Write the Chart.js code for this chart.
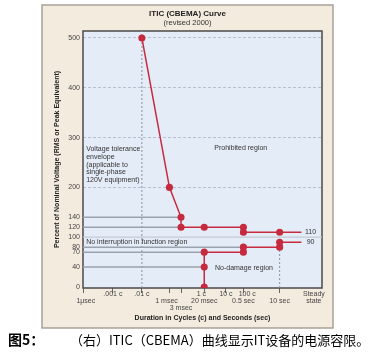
<!DOCTYPE html>
<html><head><meta charset="utf-8">
<script src="https://cdn.jsdelivr.net/npm/chart.js@4/dist/chart.umd.min.js"></script>
<style>
html,body{margin:0;padding:0;background:#fff;}
#wrap{position:relative;width:368px;height:357px;overflow:hidden;background:#fff;}
#c{position:absolute;left:0;top:0;width:368px;height:357px;}
#cap{position:absolute;left:8px;top:332px;font-family:"Noto Sans CJK SC";font-size:13px;line-height:14px;color:#000;white-space:nowrap;}
#cap b{display:inline-block;width:62px;font-weight:bold;font-size:14px;}
</style></head><body>
<div id="wrap"><canvas id="c" width="368" height="357"></canvas>
<div id="cap"><b>图5：</b>（右）ITIC（CBEMA）曲线显示IT设备的电源容限。</div></div>
<script>
// ---- data (x = schematic log-duration position, y = percent of nominal voltage) ----
const xTickPos     = [-6, -5, -4, -3.05, -2.65, -1.85, -1.1, -0.5, 0.75, 1.93];
const xTickCycles  = ["", ".001 c", ".01 c", "", "", "1 c   ", "10 c", "    100 c", "", "Steady"];
const xTickSeconds = ["  1μsec", "", "", "1 msec   ", "", "20 msec", "", "0.5 sec", "10 sec", "state"];
const xTickExtra   = ["", "", "", "", "3 msec", "", "", "", "", ""];
const yTicks = [0, 40, 70, 80, 100, 120, 140, 200, 300, 400, 500];
const yDashedGrid = [200, 300, 400, 500];

const upperDur = [-4, -3.05, -2.65, -2.65, -1.85, -0.5, -0.5, 0.75, 1.5];
const upperPct = [500, 200, 140, 120, 120, 120, 110, 110, 110];
const lowerDur = [-1.85, -1.85, -1.85, -0.5, -0.5, 0.75, 0.75, 1.5];
const lowerPct = [0, 40, 70, 70, 80, 80, 90, 90];

const refLevels = [140, 120, 80, 70, 40];
const refEnds   = [-2.65, -2.65, -0.5, -1.85, -1.85];

const xMin = -6.03, xMax = 2.21, yMin = -2, yMax = 514;

const RED = '#c62a3e';
const FONT = 'Liberation Sans';
const pts = (xs, ys) => xs.map((x, i) => ({x, y: ys[i]}));
const lastHidden = (n) => Array.from({length: n}, (_, i) => i === n - 1 ? 0 : 2.8);

const datasets = [
  {data: pts(upperDur, upperPct), borderColor: RED, backgroundColor: RED, borderWidth: 1.5, pointRadius: lastHidden(upperDur.length), showLine: true},
  {data: pts(lowerDur, lowerPct), borderColor: RED, backgroundColor: RED, borderWidth: 1.5, pointRadius: lastHidden(lowerDur.length), showLine: true},
];
refLevels.forEach((lv, i) => datasets.push({
  data: [{x: xMin, y: lv}, {x: refEnds[i], y: lv}], borderColor: '#9aa2ad', borderWidth: 1.5, pointRadius: 0, showLine: true
}));
datasets.push({data: [{x: xMin, y: 100}, {x: xMax, y: 100}], borderColor: '#c3cad4', borderWidth: 1.2, pointRadius: 0, showLine: true});
datasets.push({data: [{x: -4, y: yMin}, {x: -4, y: yMax}], borderColor: '#8a92a0', borderWidth: 1, borderDash: [2, 2], pointRadius: 0, showLine: true});
datasets.push({data: [{x: 0.75, y: yMin}, {x: 0.75, y: 80}], borderColor: '#8a92a0', borderWidth: 1, borderDash: [2, 2], pointRadius: 0, showLine: true});

const notes = [
  {lines: ['Prohibited region'], x: -0.59, y: 278, align: 'center'},
  {lines: ['Voltage tolerance', 'envelope', '(applicable to', 'single-phase', '120V equipment)'], x: -5.92, y: 276, align: 'left'},
  {lines: ['No interruption in function region'], x: -5.92, y: 90, align: 'left'},
  {lines: ['No-damage region'], x: -1.48, y: 38, align: 'left'},
  {lines: ['110'], x: 1.62, y: 110, align: 'left'},
  {lines: ['90'], x: 1.68, y: 90, align: 'left'},
];

const decor = {
  id: 'decor',
  beforeDraw(chart) {
    const {ctx, chartArea: a} = chart;
    ctx.save();
    ctx.fillStyle = '#fff'; ctx.fillRect(0, 0, chart.width, chart.height);
    const fx = a.left - 41, fy = 5, fr = a.right + 11, fb = 328;
    ctx.fillStyle = '#f4ebdf'; ctx.fillRect(fx, fy, fr - fx, fb - fy);
    ctx.strokeStyle = '#a8a198'; ctx.lineWidth = 1.5; ctx.strokeRect(fx, fy, fr - fx, fb - fy);
    ctx.fillStyle = '#e4ecf7'; ctx.fillRect(a.left, a.top, a.right - a.left, a.bottom - a.top);
    ctx.restore();
  },
  beforeDatasetsDraw(chart) {
    const {ctx, chartArea: a} = chart;
    ctx.save();
    ctx.strokeStyle = '#4a4a4a'; ctx.lineWidth = 1.5;
    ctx.strokeRect(a.left, a.top, a.right - a.left, a.bottom - a.top);
    ctx.restore();
  },
  afterDatasetsDraw(chart) {
    const {ctx} = chart;
    const sx = chart.scales.x, sy = chart.scales.y;
    ctx.save();
    ctx.fillStyle = '#333';
    ctx.font = '7px "' + FONT + '"';
    ctx.textBaseline = 'middle';
    notes.forEach(n => {
      ctx.textAlign = n.align;
      const px = sx.getPixelForValue(n.x), py = sy.getPixelForValue(n.y);
      n.lines.forEach((t, i) => ctx.fillText(t, px, py + i * 7.6));
    });
    ctx.restore();
  }
};

new Chart(document.getElementById('c'), {
  type: 'scatter',
  data: {datasets},
  plugins: [decor],
  options: {
    responsive: false,
    animation: false,
    events: [],
    layout: {padding: {left: 42, right: 35, top: 5, bottom: 29}},
    plugins: {
      legend: {display: false},
      tooltip: {enabled: false},
      title: {display: true, text: 'ITIC (CBEMA) Curve', color: '#222',
        font: {family: FONT, size: 8, weight: 'bold'}, padding: {top: 4, bottom: 0}},
      subtitle: {display: true, text: '(revised 2000)', color: '#333',
        font: {family: FONT, size: 7.5}, padding: {top: 0, bottom: 3.4}}
    },
    scales: {
      x: {
        type: 'linear', min: xMin, max: xMax,
        afterBuildTicks: s => { s.ticks = xTickPos.map(v => ({value: v})); },
        afterFit: s => { s.height = 40; s.paddingLeft = 0; s.paddingRight = 0; },
        ticks: {
          autoSkip: false, maxRotation: 0, minRotation: 0, padding: -3, color: '#444',
          font: {family: FONT, size: 7, lineHeight: 1.05},
          callback: (v, i) => {
            const l = [xTickCycles[i], xTickSeconds[i], xTickExtra[i]];
            while (l.length && l[l.length - 1] === '') l.pop();
            return l;
          }
        },
        grid: {drawOnChartArea: false, drawTicks: true, tickLength: 5, lineWidth: 1,
          tickColor: c => (c.index === xTickPos.length - 1 ? 'rgba(0,0,0,0)' : '#666')},
        border: {display: false},
        title: {display: true, text: 'Duration in Cycles (c) and Seconds (sec)', color: '#222',
          font: {family: FONT, size: 7, weight: 'bold'}, padding: {top: 0, bottom: 6}}
      },
      y: {
        type: 'linear', min: yMin, max: yMax,
        afterBuildTicks: s => { s.ticks = yTicks.map(v => ({value: v})); },
        afterFit: s => { s.width = 41; },
        ticks: {padding: 3, color: '#444', font: {family: FONT, size: 7}},
        grid: {drawTicks: false, lineWidth: 1,
          color: c => (c.tick && yDashedGrid.includes(c.tick.value) ? '#b7c0cc' : 'rgba(0,0,0,0)')},
        border: {display: false, dash: [3, 2]},
        title: {display: true, text: 'Percent of Nominal Voltage (RMS or Peak Equivalent)', color: '#222',
          font: {family: FONT, size: 7, weight: 'bold'}, padding: {top: 11, bottom: 0}}
      },
      y2: {
        position: 'right', display: true,
        ticks: {display: false}, grid: {display: false}, border: {display: false},
        afterFit: s => { s.width = 11; }
      }
    }
  }
});
</script></body></html>
